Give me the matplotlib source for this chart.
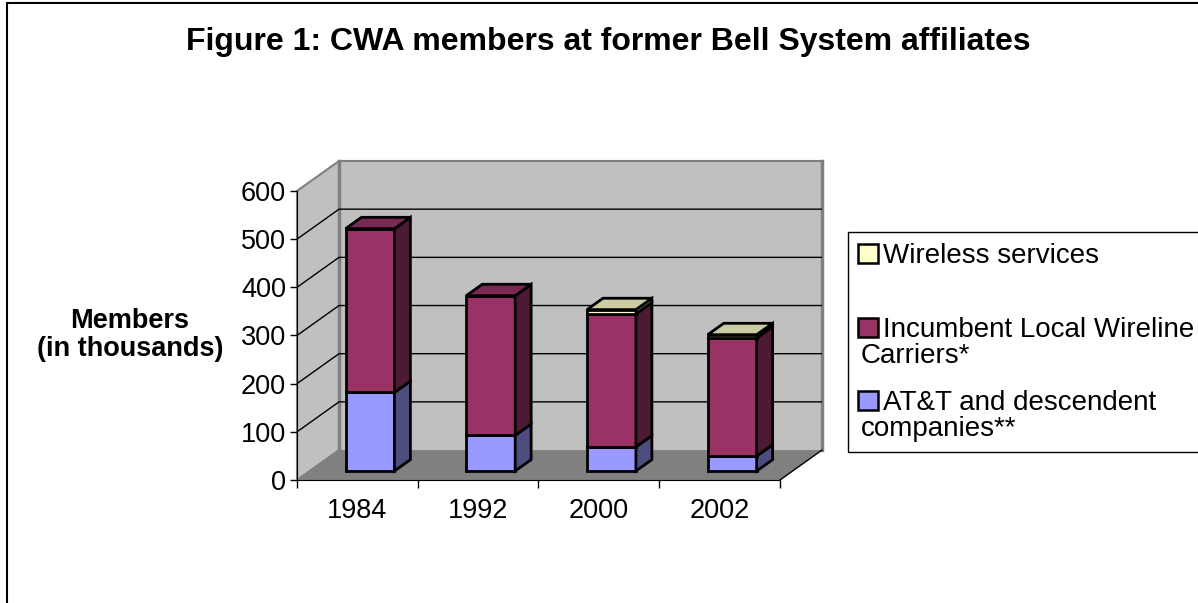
import numpy as np
import matplotlib
matplotlib.use('Agg')
import matplotlib.pyplot as plt
from matplotlib.patches import Polygon, Rectangle
from matplotlib.colors import to_rgb

# data (thousands of members)
years = ['1984', '1992', '2000', '2002']
att = [163, 74, 50, 31]
ilec = [340, 290, 276, 245]
wireless = [0, 0, 9, 7]

labels = ['AT&T and descendent\ncompanies**', 'Incumbent Local Wireline\nCarriers*', 'Wireless services']
colors = ['#9999ff', '#993366', '#ffffcc']
series = [att, ilec, wireless]

plt.rcParams['font.family'] = ['Liberation Sans', 'DejaVu Sans']
W, H = 1198, 603
fig = plt.figure(figsize=(W / 100, H / 100), dpi=100)

def fx(px):
    return px / W

def fy(py):
    return 1 - py / H

# depth of the 3d box in data units
DX, DY = 0.348, 62.2
ax = fig.add_axes([fx(297), fy(480), fx(822) - fx(297), fy(161) - fy(480)])
ax.set_xlim(-0.5, 3.5 + DX)
ax.set_ylim(0, 600 + DY)
ax.patch.set_visible(False)

wall = '#c0c0c0'
edge = '#808080'
# floor, side wall, back wall
ax.add_patch(Polygon([(-0.5, 0), (3.5, 0), (3.5 + DX, DY), (-0.5 + DX, DY)], fc='#808080', ec='none', zorder=0))
ax.add_patch(Polygon([(-0.5, 0), (-0.5 + DX, DY), (-0.5 + DX, 600 + DY), (-0.5, 600)], fc=wall, ec=edge, lw=1.5, zorder=0, clip_on=False))
ax.add_patch(Rectangle((-0.5 + DX, DY), 4, 600, fc=wall, ec='none', zorder=0))
ax.plot([-0.5 + DX, -0.5 + DX], [DY, 600 + DY], color=edge, lw=2.5, zorder=1, clip_on=False)
ax.plot([3.5 + DX, 3.5 + DX], [DY, 600 + DY], color=edge, lw=2.5, zorder=1, clip_on=False)
ax.plot([-0.5 + DX, 3.5 + DX], [600 + DY, 600 + DY], color=edge, lw=1.5, zorder=1, clip_on=False)
ax.plot([3.5, 3.5 + DX], [0, DY], color='black', lw=1, zorder=1, clip_on=False)

# gridlines
for v in range(100, 600, 100):
    ax.plot([-0.5, -0.5 + DX, 3.5 + DX], [v, v + DY, v + DY], color='black', lw=1, zorder=1)

# bars
z0, bd, bw = 0.3, 0.38, 0.405
x = np.arange(len(years))
bottom = np.zeros(len(years))
for vals, c in zip(series, colors):
    vals = np.array(vals, dtype=float)
    rgb = np.array(to_rgb(c))
    xs = x + z0 * DX
    ax.bar(xs, vals, width=bw, bottom=bottom + z0 * DY, color=c, edgecolor='black', lw=2, zorder=3)
    for i in range(len(years)):
        if vals[i] <= 0:
            continue
        xr = xs[i] + bw / 2
        b = bottom[i] + z0 * DY
        t = b + vals[i]
        ax.add_patch(Polygon([(xr, b), (xr + bd * DX, b + bd * DY), (xr + bd * DX, t + bd * DY), (xr, t)],
                             fc=rgb * 0.5, ec='black', lw=2, zorder=3, joinstyle='miter'))
    bottom = bottom + vals

# top faces
for i in range(len(years)):
    top_c = [c for vals, c in zip(series, colors) if vals[i] > 0][-1]
    xl = x[i] + z0 * DX - bw / 2
    t = bottom[i] + z0 * DY
    ax.add_patch(Polygon([(xl, t), (xl + bw, t), (xl + bw + bd * DX, t + bd * DY), (xl + bd * DX, t + bd * DY)],
                         fc=np.array(to_rgb(top_c)) * 0.8, ec='black', lw=2, zorder=3, joinstyle='miter'))

# axes
for s in ['top', 'right']:
    ax.spines[s].set_visible(False)
ax.spines['left'].set_bounds(0, 600)
ax.spines['bottom'].set_bounds(-0.5, 3.5)
ax.spines['left'].set_zorder(4)
ax.spines['bottom'].set_zorder(4)
ax.set_yticks(range(0, 601, 100))
ax.set_xticks(np.arange(-0.5, 3.6, 1))
ax.set_xticklabels([])
ax.set_xticks(x, minor=True)
ax.set_xticklabels(years, minor=True)
ax.tick_params(axis='y', labelsize=19.5, length=5, width=1, pad=3)
ax.tick_params(axis='x', which='major', length=6, width=1)
ax.tick_params(axis='x', which='minor', length=0, labelsize=19.5, pad=13)

fig.text(fx(130), fy(335), 'Members\n(in thousands)', ha='center', va='center', fontsize=19.5,
         fontweight='bold', linespacing=1.05)
fig.text(fx(608), fy(50), 'Figure 1: CWA members at former Bell System affiliates', ha='center', va='baseline',
         fontsize=23, fontweight='bold')

# legend (drawn by hand to keep Excel's spacing and hanging second lines)
fig.add_artist(Rectangle((fx(848), fy(452)), fx(1215) - fx(848), fy(232) - fy(452), fill=False,
                         ec='black', lw=1, transform=fig.transFigure))
leg_base = [410, 337, 263]
for lab, c, yb in zip(labels, colors, leg_base):
    fig.add_artist(Rectangle((fx(858), fy(yb)), fx(20), fy(0) - fy(19), fc=c, ec='black', lw=1.8,
                             transform=fig.transFigure))
    lines = lab.split('\n')
    fig.text(fx(883), fy(yb), lines[0], ha='left', va='baseline', fontsize=20)
    for k, ln in enumerate(lines[1:]):
        fig.text(fx(861), fy(yb + 26 * (k + 1)), ln, ha='left', va='baseline', fontsize=20)

# outer frame, cut by the image edge
fig.add_artist(Rectangle((fx(7), -0.2), 1.5, fy(3) + 0.2, fill=False, ec='black', lw=1.5,
                         transform=fig.transFigure))

fig.savefig('out.png', dpi=100)
